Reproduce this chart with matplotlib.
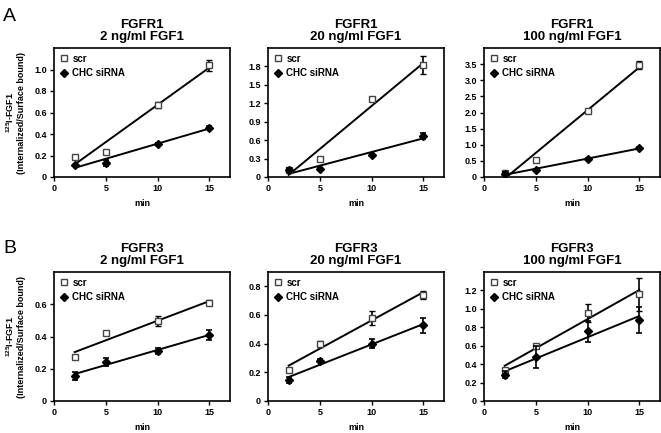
import numpy as np
import matplotlib
matplotlib.use("Agg")
import matplotlib.pyplot as plt

plt.rcParams['font.family'] = ['Liberation Sans', 'DejaVu Sans']
plt.rcParams['font.weight'] = 'bold'
plt.rcParams['mathtext.fontset'] = 'custom'
plt.rcParams['mathtext.rm'] = 'Liberation Sans:bold'
plt.rcParams['mathtext.bf'] = 'Liberation Sans:bold'
plt.rcParams['mathtext.default'] = 'bf'

# time points (min)
minutes = [2, 5, 10, 15]

# panel titles
receptors = ["FGFR1", "FGFR1", "FGFR1", "FGFR3", "FGFR3", "FGFR3"]
doses = ["2 ng/ml FGF1", "20 ng/ml FGF1", "100 ng/ml FGF1",
         "2 ng/ml FGF1", "20 ng/ml FGF1", "100 ng/ml FGF1"]

# scr values and errors
scr_vals = [
    [0.19, 0.23, 0.67, 1.04],
    [0.11, 0.30, 1.27, 1.82],
    [0.13, 0.53, 2.04, 3.47],
    [0.27, 0.42, 0.497, 0.61],
    [0.213, 0.40, 0.58, 0.74],
    [0.335, 0.60, 0.957, 1.156],
]
scr_err = [
    [0.0, 0.0, 0.03, 0.05],
    [0.02, 0.0, 0.02, 0.15],
    [0.05, 0.0, 0.03, 0.12],
    [0.0, 0.0, 0.03, 0.015],
    [0.01, 0.02, 0.05, 0.03],
    [0.02, 0.0, 0.10, 0.18],
]

# CHC siRNA values and errors
chc_vals = [
    [0.115, 0.13, 0.31, 0.46],
    [0.11, 0.13, 0.36, 0.67],
    [0.10, 0.22, 0.56, 0.90],
    [0.157, 0.24, 0.31, 0.41],
    [0.144, 0.28, 0.40, 0.527],
    [0.287, 0.475, 0.755, 0.88],
]
chc_err = [
    [0.0, 0.03, 0.01, 0.015],
    [0.03, 0.02, 0.02, 0.05],
    [0.05, 0.03, 0.02, 0.02],
    [0.025, 0.025, 0.02, 0.03],
    [0.02, 0.01, 0.03, 0.05],
    [0.04, 0.12, 0.11, 0.14],
]

# y axis ranges and ticks
y_max = [1.2, 2.1, 4.0, 0.8, 0.9, 1.4]
y_ticks = [
    [0, 0.2, 0.4, 0.6, 0.8, 1.0],
    [0, 0.3, 0.6, 0.9, 1.2, 1.5, 1.8],
    [0, 0.5, 1.0, 1.5, 2.0, 2.5, 3.0, 3.5],
    [0, 0.2, 0.4, 0.6],
    [0, 0.2, 0.4, 0.6, 0.8],
    [0, 0.2, 0.4, 0.6, 0.8, 1.0, 1.2],
]

W, H = 661, 433
fig = plt.figure(figsize=(W / 100, H / 100), dpi=100)

lefts = [54, 268, 484]
tops = [48, 272]
ax_w, ax_h = 176, 129

for i in range(6):
    r, c = divmod(i, 3)
    ax = fig.add_axes([lefts[c] / W, 1 - (tops[r] + ax_h) / H, ax_w / W, ax_h / H])

    x = np.array(minutes)
    # linear fits
    for vals in (scr_vals[i], chc_vals[i]):
        k, b = np.polyfit(x, vals, 1)
        xx = np.array([2, 15])
        ax.plot(xx, k * xx + b, color='black', lw=1.4, zorder=2)

    ax.errorbar(x, scr_vals[i], yerr=scr_err[i], fmt='s', ms=4.3, mfc='white',
                mec='#444444', mew=1.0, ecolor='black', elinewidth=1.2,
                capsize=2.2, capthick=1.2, label='scr', zorder=3)
    ax.errorbar(x, chc_vals[i], yerr=chc_err[i], fmt='D', ms=4.3, mfc='black',
                mec='black', ecolor='black', elinewidth=1.2,
                capsize=2.2, capthick=1.2, label='CHC siRNA', zorder=4)

    ax.set_xlim(0, 17)
    ax.set_ylim(0, y_max[i])
    ax.set_xticks([0, 5, 10, 15])
    ax.set_yticks(y_ticks[i])
    ax.set_yticklabels(['0' if t == 0 else f"{t:.1f}" for t in y_ticks[i]])
    ax.tick_params(direction='out', length=3, width=1, labelsize=6.5, pad=2)
    for lab in ax.get_xticklabels() + ax.get_yticklabels():
        lab.set_fontweight('bold')
    for s in ax.spines.values():
        s.set_linewidth(1.2)

    ax.set_title(receptors[i] + "\n" + doses[i], fontsize=9.5, fontweight='bold',
                 pad=6, linespacing=1.0)
    ax.set_xlabel("min", fontsize=6.5, fontweight='bold', labelpad=4)

    handles, labels = ax.get_legend_handles_labels()
    handles = [h[0] for h in handles]
    ax.legend(handles, labels, loc='upper left', frameon=False,
              prop={'size': 7, 'weight': 'bold'}, handlelength=0.9,
              handletextpad=0.4, borderaxespad=0.3, labelspacing=0.45,
              borderpad=0.3)

# y axis labels for the left column
for yc in (tops[0] + ax_h / 2, tops[1] + ax_h / 2):
    fig.text(15 / W, 1 - yc / H, "$^{125}$I-FGF1\n(Internalized/Surface bound)",
             rotation=90, ha='center', va='center', fontsize=6.5,
             fontweight='bold', linespacing=1.1)

# panel letters
fig.text(3 / W, 1 - 21 / H, "A", fontsize=14, fontweight='normal')
fig.text(3 / W, 1 - 253 / H, "B", fontsize=14, fontweight='normal')

fig.savefig("out.png", dpi=100)
